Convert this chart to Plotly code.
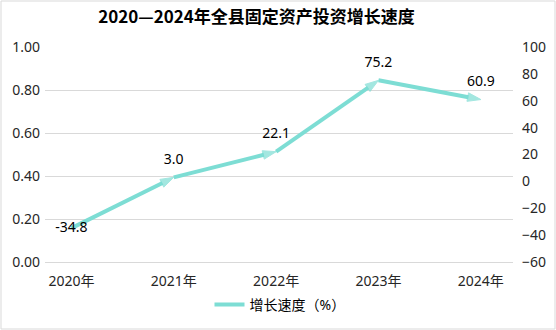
import plotly.graph_objects as go

years = ["2020年", "2021年", "2022年", "2023年", "2024年"]
growth = [-34.8, 3.0, 22.1, 75.2, 60.9]
labels = ["-34.8", "3.0", "22.1", "75.2", "60.9"]
left_ticks = [0.0, 0.2, 0.4, 0.6, 0.8, 1.0]
right_ticks = [-60, -40, -20, 0, 20, 40, 60, 80, 100]

color = "#7DDDD4"
font_fam = "'Noto Sans', 'Noto Sans CJK SC', sans-serif"
tick_color = "#262626"

fig = go.Figure()

# dummy trace on left axis so it renders
fig.add_trace(go.Scatter(x=years, y=[None] * len(years), yaxis="y",
                         showlegend=False, hoverinfo="skip", mode="lines"))

fig.add_trace(go.Scatter(
    x=years, y=growth, yaxis="y2", mode="lines+markers+text",
    line=dict(color=color, width=4),
    marker=dict(symbol="arrow", angleref="previous",
                size=[0, 14, 14, 14, 14], color=color,
                line=dict(width=1, color=color)),
    text=labels,
    textposition=["middle center", "top center", "top center", "top center", "top center"],
    textfont=dict(size=14, color="#000000", family=font_fam),
    showlegend=False, cliponaxis=False,
))

# legend entry
fig.add_trace(go.Scatter(
    x=[years[0]], y=[None], yaxis="y2", mode="lines",
    line=dict(color=color, width=4), name="增长速度（%）", showlegend=True,
))

fig.update_layout(
    width=556, height=330,
    margin=dict(l=45, r=43, t=47, b=68, autoexpand=False),
    paper_bgcolor="white", plot_bgcolor="white",
    font=dict(family=font_fam, size=14, color=tick_color),
    title=dict(text="<b>2020—2024年全县固定资产投资增长速度</b>",
               x=(256.5 - 45) / 468, xref="paper", xanchor="center",
               y=1 - 17 / 330, yref="container", yanchor="middle",
               font=dict(size=17, color="#000000",
                         family="'Noto Sans CJK SC', sans-serif")),
    xaxis=dict(type="category", showgrid=False, showline=True, automargin=False,
               linecolor="#d9d9d9", ticks="", ticklabelstandoff=6,
               tickfont=dict(size=14, color=tick_color)),
    yaxis=dict(range=[0, 1], tickvals=left_ticks, tickformat=".2f", automargin=False,
               showgrid=True, gridcolor="#d9d9d9", gridwidth=1,
               zeroline=False, showline=False, ticks="", ticklabelstandoff=4,
               tickfont=dict(size=14, color=tick_color)),
    yaxis2=dict(range=[-60, 100], tickvals=right_ticks, overlaying="y", automargin=False,
                side="right", showgrid=False, zeroline=False, showline=False,
                ticks="", ticklabelstandoff=8,
                tickfont=dict(size=14, color=tick_color)),
    legend=dict(orientation="h", x=(280 - 45) / 468, xanchor="center", y=-0.2,
                yanchor="middle", font=dict(size=14, color="#000000"),
                itemwidth=30),
    shapes=[dict(type="rect", xref="paper", yref="paper",
                 x0=(1 - 45) / 468, x1=(555 - 45) / 468,
                 y0=(262 - 329) / 215, y1=(262 - 1) / 215,
                 line=dict(color="#d9d9d9", width=1), layer="below")],
)

fig.write_html("out.html")
